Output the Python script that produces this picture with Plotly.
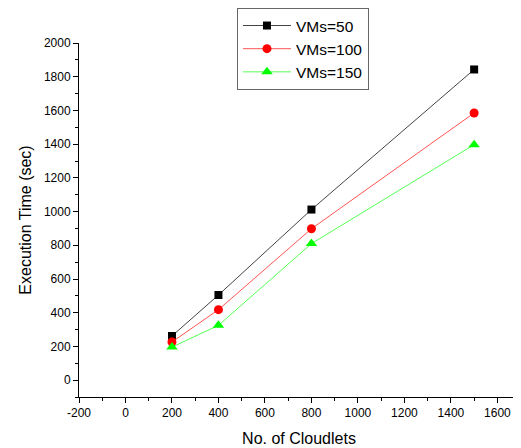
import plotly.graph_objects as go

cloudlets = [200, 400, 800, 1500]
vms50 = [262, 505, 1012, 1843]
vms100 = [226, 418, 898, 1585]
vms150 = [196, 325, 810, 1397]
series_names = ["VMs=50", "VMs=100", "VMs=150"]
x_ticks = list(range(-200, 1601, 200))
x_labels = [str(v) for v in x_ticks]
y_ticks = list(range(0, 2001, 200))
y_labels = [str(v) for v in y_ticks]

fig = go.Figure()
styles = [
    dict(line=dict(color="#444444", width=1), marker=dict(symbol="square", size=8, color="black")),
    dict(line=dict(color="#ff5555", width=1), marker=dict(symbol="circle", size=9, color="red")),
    dict(line=dict(color="#55ff55", width=1), marker=dict(symbol="triangle-up", size=10, color="#00ff00")),
]
for name, vals, st in zip(series_names, [vms50, vms100, vms150], styles):
    fig.add_trace(go.Scatter(x=cloudlets, y=vals, mode="lines+markers", name=name, **st))

font_family = "Liberation Sans, Arial"
axis_common = dict(
    showline=True, linecolor="black", linewidth=1, showgrid=False, zeroline=False,
    ticks="outside", ticklen=5, tickcolor="black", tickwidth=1, automargin=False,
    tickfont=dict(family=font_family, size=12, color="black"),
    minor=dict(ticks="outside", ticklen=3, tickcolor="black", dtick=100, showgrid=False),
)
fig.update_xaxes(range=[-200, 1693], tickvals=x_ticks, ticktext=x_labels,
                 title=dict(text="No. of Cloudlets", font=dict(family=font_family, size=16, color="black"), standoff=13),
                 **axis_common)
fig.update_yaxes(range=[-100, 2000], tickvals=y_ticks, ticktext=y_labels,
                 title=dict(text="Execution Time (sec)", font=dict(family=font_family, size=16, color="black"), standoff=8),
                 **axis_common)

fig.update_layout(
    width=513, height=440,
    margin=dict(l=71, r=2, t=35, b=51, autoexpand=False),
    paper_bgcolor="white", plot_bgcolor="white",
    legend=dict(x=0.359, y=1.099, xanchor="left", yanchor="top",
                bordercolor="#666666", borderwidth=1, bgcolor="white",
                font=dict(family=font_family, size=15.5, color="black"),
                tracegroupgap=0, itemwidth=48),
    showlegend=True,
)
fig.write_html("out.html")
